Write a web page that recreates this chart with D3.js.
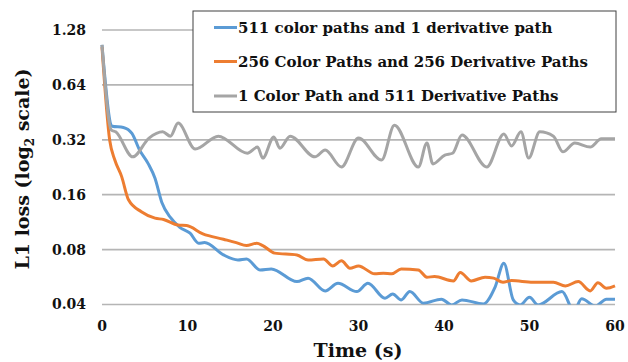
<!DOCTYPE html>
<html>
<head>
<meta charset="utf-8">
<script src="https://cdn.jsdelivr.net/npm/d3@7"></script>
<style>
  body { margin: 0; background: #fff; }
  text { font-family: "DejaVu Serif", serif; font-weight: bold; fill: #111; }
</style>
</head>
<body>
<div id="chart"></div>
<script>
const seriesNames = [
  "511 color paths and 1 derivative path",
  "256 Color Paths and 256 Derivative Paths",
  "1 Color Path and 511 Derivative Paths"
];
const seriesColors = ["#5B9BD5", "#ED7D31", "#A5A5A5"];

const yTicks = [0.04, 0.08, 0.16, 0.32, 0.64, 1.28];
const xTicks = [0, 10, 20, 30, 40, 50, 60];

// 511 color / 1 derivative
const blueTime = [0, 1.2, 2.5, 3.5, 4.4, 5.4, 6.2, 7, 8, 9.1, 10.3, 11.3, 12, 14.2, 15.9, 16.9, 18.5, 19.8, 22.8, 24.1, 26.1, 27.6, 29.8, 31.1, 33.1, 34, 35, 36, 37.6, 39.7, 40.9, 42.1, 44.6, 46, 47, 48.1, 48.9, 50, 51, 53.8, 55.2, 56.1, 57.7, 59, 60];
const blueLoss = [1.06, 0.38, 0.374, 0.347, 0.281, 0.237, 0.197, 0.145, 0.12, 0.106, 0.0984, 0.0867, 0.0874, 0.0748, 0.0702, 0.0711, 0.0619, 0.0627, 0.0534, 0.0558, 0.0475, 0.0523, 0.0471, 0.0523, 0.0433, 0.0457, 0.0424, 0.0471, 0.0407, 0.0428, 0.0398, 0.0424, 0.0403, 0.0502, 0.0674, 0.0424, 0.0398, 0.0438, 0.0398, 0.0471, 0.037, 0.043, 0.0392, 0.0428, 0.0428];

// 256 color / 256 derivative
const orangeTime = [0, 0.9, 1.5, 2.3, 3.1, 4.6, 6.2, 7.2, 8.9, 9.9, 11.8, 14.2, 15.7, 16.9, 18.1, 18.8, 20.2, 22.8, 24.1, 25.9, 27, 28, 29, 30, 31.9, 32.9, 33.9, 35, 37, 38, 38.9, 41.1, 41.9, 43.2, 44.8, 45.8, 46.9, 47.9, 50.4, 52.8, 54.2, 55.7, 57.1, 58, 59, 60];
const orangeLoss = [1.03, 0.318, 0.248, 0.201, 0.15, 0.129, 0.119, 0.117, 0.109, 0.1083, 0.0975, 0.0912, 0.0874, 0.0842, 0.0867, 0.0842, 0.0765, 0.0748, 0.0702, 0.0711, 0.0651, 0.0694, 0.0633, 0.0651, 0.0589, 0.0594, 0.0589, 0.0627, 0.0619, 0.0565, 0.0569, 0.0539, 0.0599, 0.0539, 0.0565, 0.0558, 0.053, 0.0541, 0.053, 0.053, 0.0506, 0.0534, 0.0475, 0.0527, 0.0491, 0.0506];

// 1 color / 511 derivative
const grayTime = [0, 1.1, 1.6, 3.6, 5.5, 7.1, 8, 8.9, 10.9, 13.6, 17, 18.2, 18.8, 20.1, 20.8, 22, 24.9, 26.1, 28, 30, 32.7, 34.2, 37, 38, 38.7, 40.1, 41, 42.1, 45, 47, 47.9, 49, 49.9, 51.2, 52.8, 53.9, 55.3, 57.1, 58.4, 60];
const grayLoss = [1.06, 0.362, 0.354, 0.258, 0.327, 0.354, 0.335, 0.395, 0.285, 0.335, 0.27, 0.292, 0.254, 0.332, 0.288, 0.335, 0.258, 0.281, 0.227, 0.327, 0.248, 0.385, 0.227, 0.307, 0.236, 0.264, 0.27, 0.34, 0.227, 0.344, 0.296, 0.354, 0.254, 0.354, 0.335, 0.275, 0.307, 0.292, 0.324, 0.324];

const width = 628, height = 362;
const margin = { top: 30, right: 13, bottom: 57.5, left: 102 };

const svg = d3.select("#chart").append("svg")
  .attr("width", width)
  .attr("height", height);

const x = d3.scaleLinear()
  .domain([0, 60])
  .range([margin.left, width - margin.right]);

const y = d3.scaleLog().base(2)
  .domain([0.04, 1.28])
  .range([height - margin.bottom, margin.top]);

// gridlines
svg.append("g")
  .selectAll("line")
  .data(yTicks)
  .join("line")
    .attr("x1", x(0))
    .attr("x2", x(60))
    .attr("y1", d => y(d))
    .attr("y2", d => y(d))
    .attr("stroke", "#b5b5b5")
    .attr("stroke-width", 1.7);

// y tick labels
svg.append("g")
  .selectAll("text")
  .data(yTicks)
  .join("text")
    .attr("x", 86)
    .attr("y", d => y(d))
    .attr("dy", "0.35em")
    .attr("text-anchor", "end")
    .attr("font-size", 14)
    .text(d => d.toFixed(2));

// x tick labels
svg.append("g")
  .selectAll("text")
  .data(xTicks)
  .join("text")
    .attr("x", d => x(d))
    .attr("y", 331)
    .attr("text-anchor", "middle")
    .attr("font-size", 14)
    .text(d => d);

svg.append("defs").append("clipPath")
  .attr("id", "plot-clip")
  .append("rect")
    .attr("x", x(0) - 5)
    .attr("y", y(1.28))
    .attr("width", x(60) - x(0) + 10)
    .attr("height", y(0.04) - y(1.28));

const series = [
  { times: blueTime, values: blueLoss },
  { times: orangeTime, values: orangeLoss },
  { times: grayTime, values: grayLoss }
];

const line = d3.line()
  .x(d => x(d[0]))
  .y(d => y(d[1]))
  .curve(d3.curveMonotoneX);

svg.append("g")
  .attr("clip-path", "url(#plot-clip)")
  .selectAll("path")
  .data(series)
  .join("path")
    .attr("fill", "none")
    .attr("stroke", (d, i) => seriesColors[i])
    .attr("stroke-width", 3)
    .attr("stroke-linejoin", "round")
    .attr("d", d => line(d3.zip(d.times, d.values)));

// axis titles
svg.append("text")
  .attr("x", 358)
  .attr("y", 357)
  .attr("text-anchor", "middle")
  .attr("font-size", 19)
  .text("Time (s)");

const yTitle = svg.append("text")
  .attr("transform", "translate(29,169) rotate(-90)")
  .attr("text-anchor", "middle")
  .attr("font-size", 19);
yTitle.append("tspan").text("L1 loss (log");
yTitle.append("tspan").attr("font-size", 12).attr("dy", 5).text("2");
yTitle.append("tspan").attr("dy", -5).text(" scale)");

// legend
const legend = svg.append("g");
legend.append("rect")
  .attr("x", 193)
  .attr("y", 11)
  .attr("width", 423)
  .attr("height", 101)
  .attr("fill", "#fff")
  .attr("stroke", "#404040")
  .attr("stroke-width", 1);

const rowY = [27.5, 61.5, 96];
const items = legend.selectAll("g.item")
  .data(seriesNames)
  .join("g")
    .attr("class", "item")
    .attr("transform", (d, i) => `translate(0,${rowY[i]})`);

items.append("line")
  .attr("x1", 214)
  .attr("x2", 237)
  .attr("stroke", (d, i) => seriesColors[i])
  .attr("stroke-width", 3);

items.append("text")
  .attr("x", 238)
  .attr("dy", "0.35em")
  .attr("font-size", 15)
  .text(d => d);
</script>
</body>
</html>
